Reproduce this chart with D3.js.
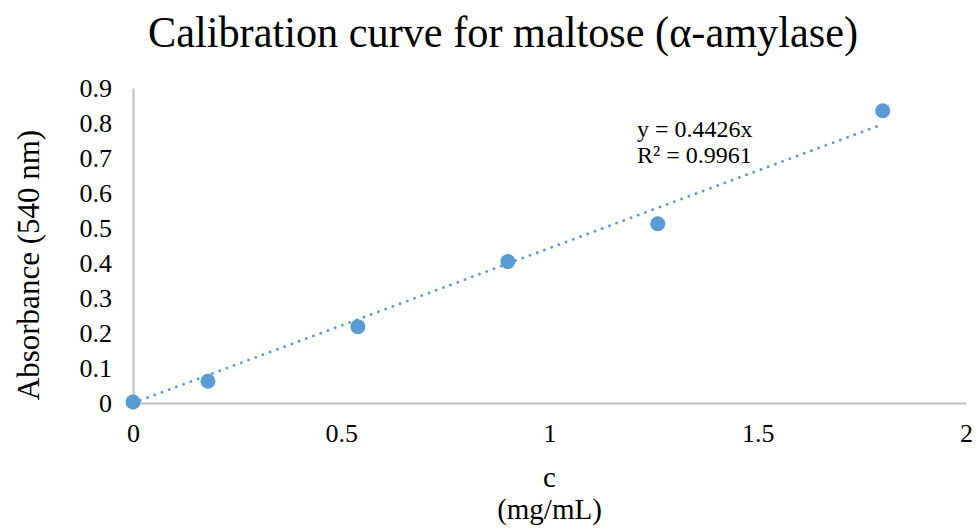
<!DOCTYPE html>
<html>
<head>
<meta charset="utf-8">
<script src="https://cdn.jsdelivr.net/npm/d3@7"></script>
<style>
  body { margin: 0; background: #fff; }
  svg text { font-family: "Liberation Serif", "Times New Roman", serif; fill: #000; }
</style>
</head>
<body>
<div id="chart"></div>
<script>
// data
const conc = [0, 0.18, 0.54, 0.9, 1.26, 1.8];
const absorbance = [0.003, 0.062, 0.218, 0.404, 0.512, 0.835];
const slope = 0.4426;
const xTicks = [0, 0.5, 1, 1.5, 2];
const yTicks = [0, 0.1, 0.2, 0.3, 0.4, 0.5, 0.6, 0.7, 0.8, 0.9];

const serif = '"Liberation Serif", "Times New Roman", serif';
const W = 978, H = 530;
const margin = { top: 88, right: 12, bottom: 127, left: 133 };
const width = W - margin.left - margin.right;
const height = H - margin.top - margin.bottom;

const svg = d3.select('#chart').append('svg')
  .attr('width', W)
  .attr('height', H);

const chart = svg.append('g')
  .attr('transform', `translate(${margin.left}, ${margin.top})`);

const x = d3.scaleLinear().domain([0, 2]).range([0, width]);
const y = d3.scaleLinear().domain([0, 0.9]).range([height, 0]);

// axes - plain gray lines, no tick marks
const xAxis = chart.append('g')
  .attr('transform', `translate(0, ${height})`)
  .call(d3.axisBottom(x).tickValues(xTicks).tickSize(0).tickPadding(21).tickFormat(d3.format('')));
const yAxis = chart.append('g')
  .call(d3.axisLeft(y).tickValues(yTicks).tickSize(0).tickPadding(21).tickFormat(d => d === 0 ? '0' : d3.format('.1f')(d)));

[xAxis, yAxis].forEach(a => {
  a.attr('font-family', null);
  a.select('.domain').attr('stroke', '#bfbfbf').attr('stroke-width', 2);
  a.selectAll('text')
    .style('font-family', serif)
    .style('font-size', '26px')
    .attr('fill', '#000');
});

// trendline
const line = d3.line()
  .x(d => x(d))
  .y(d => y(slope * d));
chart.append('path')
  .datum([0, d3.max(conc)])
  .attr('d', line)
  .attr('fill', 'none')
  .attr('stroke', '#5b9bd5')
  .attr('stroke-width', 2.8)
  .attr('stroke-linecap', 'round')
  .attr('stroke-dasharray', '0.1 7.6');

// points
chart.selectAll('circle')
  .data(conc.map((c, i) => [c, absorbance[i]]))
  .join('circle')
  .attr('cx', d => x(d[0]))
  .attr('cy', d => y(d[1]))
  .attr('r', 7.5)
  .attr('fill', '#5b9bd5');

// equation
const eq = chart.append('text')
  .attr('x', 504)
  .attr('y', 49)
  .style('font-family', serif)
  .style('font-size', '24px');
eq.append('tspan').attr('x', 504).text('y = 0.4426x');
eq.append('tspan').attr('x', 504).attr('dy', 26).text('R² = 0.9961');

// title
svg.append('text')
  .attr('x', 503)
  .attr('y', 47)
  .attr('text-anchor', 'middle')
  .attr('textLength', 710)
  .attr('lengthAdjust', 'spacingAndGlyphs')
  .style('font-family', serif)
  .style('font-size', '44px')
  .text('Calibration curve for maltose (α-amylase)');

// x label
svg.append('text')
  .attr('x', margin.left + width / 2)
  .attr('y', 487)
  .attr('text-anchor', 'middle')
  .style('font-family', serif)
  .style('font-size', '29px')
  .text('c');
svg.append('text')
  .attr('x', margin.left + width / 2)
  .attr('y', 519)
  .attr('text-anchor', 'middle')
  .style('font-family', serif)
  .style('font-size', '29px')
  .text('(mg/mL)');

// y label
svg.append('text')
  .attr('transform', 'rotate(-90)')
  .attr('x', -265)
  .attr('y', 39)
  .attr('text-anchor', 'middle')
  .style('font-family', serif)
  .style('font-size', '31px')
  .text('Absorbance (540 nm)');
</script>
</body>
</html>
